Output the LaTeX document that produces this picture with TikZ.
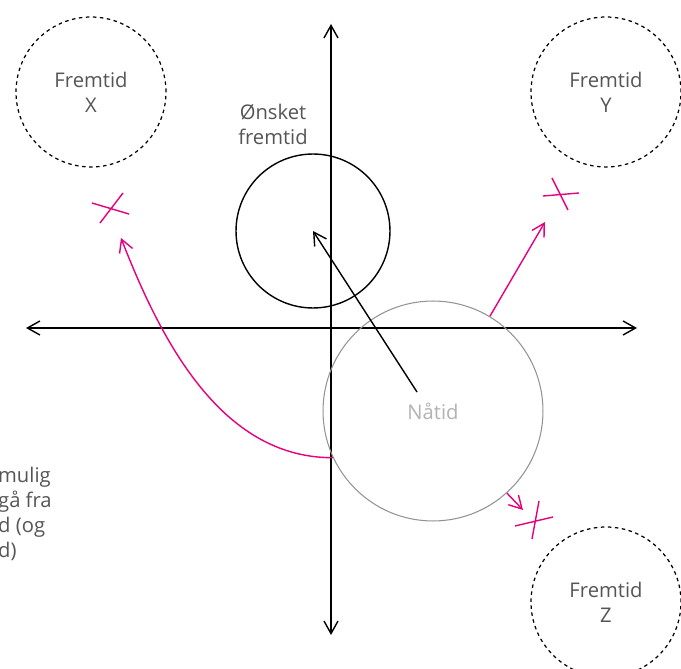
\documentclass[tikz,border=0pt]{standalone}
\usepackage{fontspec}
\setmainfont{Open Sans}
\usetikzlibrary{arrows.meta}

\definecolor{rosa}{HTML}{E6007E}
\definecolor{tekst}{HTML}{555555}

\tikzset{
  akse/.style={line width=0.8pt, ->},
  fremtid/.style={circle, draw, dashed, dash pattern=on 2pt off 2pt, line width=0.7pt,
    minimum size=3cm, inner sep=0pt, text=tekst, align=center},
  vei/.style={rosa, line width=0.8pt, ->},
  kryss/.style={rosa, line width=0.8pt},
  etikett/.style={text=tekst, align=center, font=\fontsize{11.5}{14.2}\selectfont}
}

\begin{document}
\begin{tikzpicture}[x=0.02cm, y=-0.02cm, >={Straight Barb[length=2.5mm,width=2.8mm]}]

\clip (0,0) rectangle (681,669);

% axes
\coordinate (venstre) at (26,328);
\coordinate (hoyre) at (637,328);
\coordinate (topp) at (331,24);
\coordinate (bunn) at (331,635);
\draw[akse] (331,328) -- (venstre);
\draw[akse] (331,328) -- (hoyre);
\draw[akse] (331,328) -- (topp);
\draw[akse] (331,328) -- (bunn);

% futures
\node[fremtid, etikett] (fx) at (91,92) {Fremtid\\X};
\node[fremtid, etikett] (fy) at (606,92) {Fremtid\\Y};
\node[fremtid, etikett] (fz) at (606,602) {Fremtid\\Z};

% wanted future and now
\node[circle, draw, line width=0.8pt, minimum size=3.08cm] (onsket) at (313,231) {};
\node[etikett] (onsketlabel) at (273,124) {Ønsket\\fremtid};
\node[circle, draw=gray!85, line width=0.6pt, minimum size=4.4cm, etikett, text=gray!60] (naa) at (433,411) {Nåtid};

\coordinate (naastart) at (417,392);
\draw[line width=0.8pt, ->] (naastart) -- (onsket.center);

% paths out of now
\coordinate (xmaal) at (121,238);
\coordinate (ymaal) at (545,222);
\coordinate (zmaal) at (523,510);
\draw[vei] (naa.205) .. controls (220,458) and (160,338) .. (xmaal);
\draw[vei] (naa.59) -- (ymaal);
\draw[vei] (naa.-48) -- (zmaal);

% crosses
\draw[kryss] (92,203) -- (129,214);
\draw[kryss] (100,223) -- (123,193);
\draw[kryss] (543,196) -- (579,193);
\draw[kryss] (552,178) -- (568,210);
\draw[kryss] (515,526) -- (553,517);
\draw[kryss] (539,501) -- (532,539);

% clipped text
\node[etikett, align=left, anchor=west] (tekstbit) at (-8,514) {mulig\\gå fra\\d (og\\d)};

\end{tikzpicture}
\end{document}
